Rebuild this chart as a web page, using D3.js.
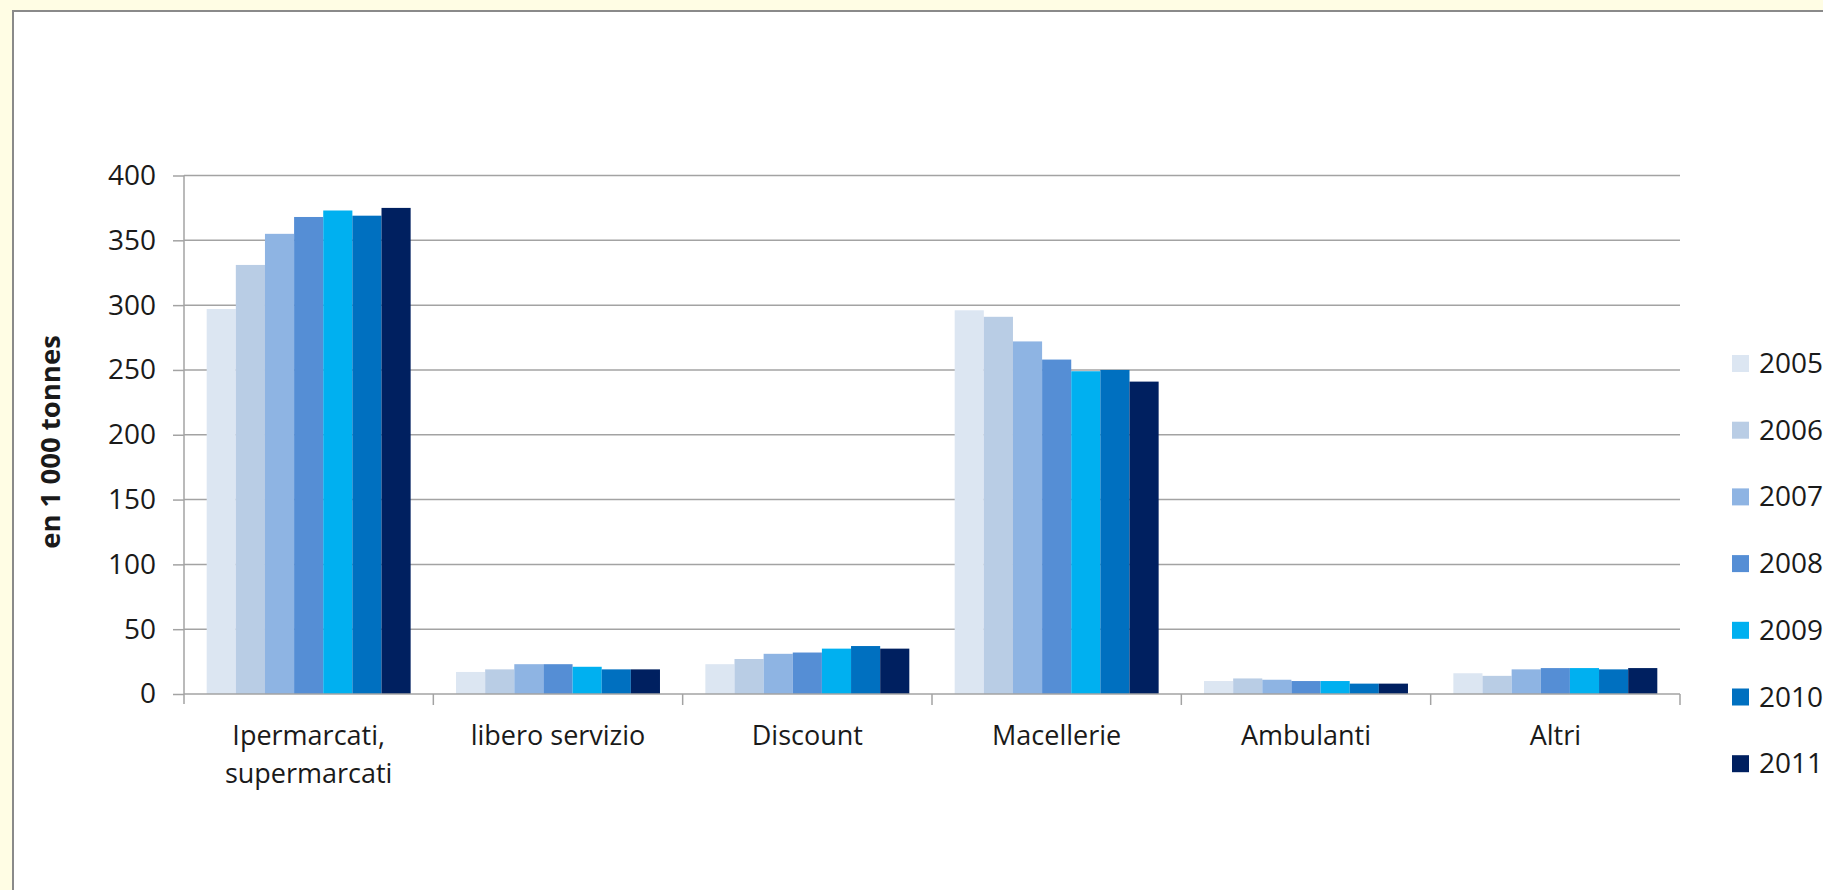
<!DOCTYPE html>
<html>
<head>
<meta charset="utf-8">
<script src="https://cdn.jsdelivr.net/npm/d3@7"></script>
<style>
  html, body { margin: 0; padding: 0; background: #fffde4; overflow: hidden; }
  svg { display: block; }
  text { font-family: "Open Sans", "DejaVu Sans", sans-serif; fill: #1a1a1a; }
</style>
</head>
<body>
<svg id="chart" width="1823" height="890"></svg>
<script>
// ---- data ----
const categories = ["Ipermarcati, supermarcati", "libero servizio", "Discount", "Macellerie", "Ambulanti", "Altri"];
const categoryLines = [["Ipermarcati,", "supermarcati"], ["libero servizio"], ["Discount"], ["Macellerie"], ["Ambulanti"], ["Altri"]];
const years = ["2005", "2006", "2007", "2008", "2009", "2010", "2011"];
const v2005 = [297, 17, 23, 296, 10, 16];
const v2006 = [331, 19, 27, 291, 12, 14];
const v2007 = [355, 23, 31, 272, 11, 19];
const v2008 = [368, 23, 32, 258, 10, 20];
const v2009 = [373, 21, 35, 249, 10, 20];
const v2010 = [369, 19, 37, 250, 8, 19];
const v2011 = [375, 19, 35, 241, 8, 20];
const seriesValues = [v2005, v2006, v2007, v2008, v2009, v2010, v2011];
const colors = ["#dce6f2", "#b9cde5", "#8eb4e3", "#558ed5", "#00b0f0", "#0070c0", "#002060"];
const yTicks = [0, 50, 100, 150, 200, 250, 300, 350, 400];
const yTitle = "en 1 000 tonnes";

// ---- layout ----
const svg = d3.select("#chart");
const plot = { left: 184, right: 1680, top: 175.5, bottom: 694 };

// frame
svg.append("rect")
  .attr("x", 13).attr("y", 11)
  .attr("width", 1823).attr("height", 900)
  .attr("fill", "#ffffff").attr("stroke", "#8a8a8a").attr("stroke-width", 2);

const x0 = d3.scaleBand().domain(categories).range([plot.left, plot.right]).padding(0);
const bw = x0.bandwidth();
const x1 = d3.scaleBand().domain(years).range([bw * 0.091, bw * 0.909]).padding(0);
const y = d3.scaleLinear().domain([0, 400]).range([plot.bottom, plot.top]);

const gridColor = "#a3a3a3";

// gridlines
svg.append("g").selectAll("line").data(yTicks.filter(d => d > 0)).join("line")
  .attr("x1", plot.left).attr("x2", plot.right)
  .attr("y1", d => y(d)).attr("y2", d => y(d))
  .attr("stroke", gridColor).attr("stroke-width", 1.5);

// bars
const groups = svg.append("g").selectAll("g").data(categories).join("g")
  .attr("transform", d => `translate(${x0(d)},0)`);
groups.selectAll("rect")
  .data((c, ci) => years.map((yr, si) => ({ yr, si, v: seriesValues[si][ci] })))
  .join("rect")
  .attr("x", d => x1(d.yr))
  .attr("width", x1.bandwidth())
  .attr("y", d => y(d.v))
  .attr("height", d => y(0) - y(d.v))
  .attr("fill", d => colors[d.si]);

// y axis
const yAxis = d3.axisLeft(y).tickValues(yTicks).tickSize(11).tickPadding(17).tickFormat(d3.format("d"));
const yg = svg.append("g").attr("transform", `translate(${plot.left},0)`).call(yAxis);
yg.select(".domain").remove();
yg.append("line").attr("x1", 0).attr("x2", 0).attr("y1", plot.top).attr("y2", plot.bottom + 10)
  .attr("stroke", gridColor).attr("stroke-width", 1.5);
yg.selectAll(".tick line").attr("stroke", gridColor).attr("stroke-width", 1.5);
yg.selectAll(".tick text").attr("font-size", 28).attr("fill", "#1a1a1a")
  .style("font-family", '"Open Sans", sans-serif');

// x axis line + category ticks
const xg = svg.append("g");
xg.append("line").attr("x1", plot.left).attr("x2", plot.right)
  .attr("y1", plot.bottom).attr("y2", plot.bottom)
  .attr("stroke", gridColor).attr("stroke-width", 1.5);
const boundaries = categories.map(c => x0(c) + bw);
xg.selectAll("line.ct").data(boundaries).join("line").attr("class", "ct")
  .attr("x1", d => d).attr("x2", d => d)
  .attr("y1", plot.bottom).attr("y2", plot.bottom + 11)
  .attr("stroke", gridColor).attr("stroke-width", 1.5);

// category labels
const lab = svg.append("g").selectAll("text").data(categories).join("text")
  .attr("text-anchor", "middle")
  .attr("font-size", 27)
  .attr("transform", d => `translate(${x0(d) + bw / 2},745)`);
lab.selectAll("tspan").data((c, i) => categoryLines[i]).join("tspan")
  .attr("x", 0).attr("dy", (d, i) => i === 0 ? 0 : 38).text(d => d);

// y title
svg.append("text")
  .attr("transform", "translate(60,442) rotate(-90)")
  .attr("text-anchor", "middle")
  .attr("font-size", 27.5).attr("font-weight", "bold")
  .text(yTitle);

// legend
const leg = svg.append("g").selectAll("g").data(years).join("g")
  .attr("transform", (d, i) => `translate(1732,${363.5 + i * 66.7})`);
leg.append("rect").attr("x", 0).attr("y", -8.5).attr("width", 17).attr("height", 17)
  .attr("fill", (d, i) => colors[i]);
leg.append("text").attr("x", 27).attr("y", 9.5).attr("font-size", 28).text(d => d);
</script>
</body>
</html>
